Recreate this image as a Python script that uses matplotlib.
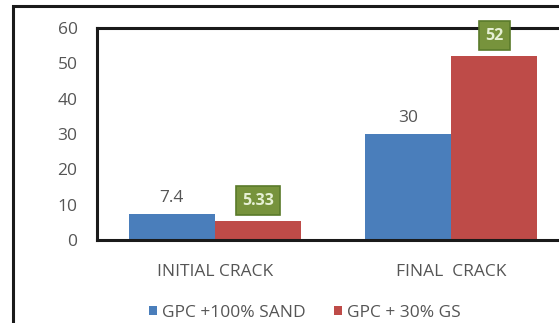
import numpy as np
import matplotlib as mpl
import matplotlib.pyplot as plt
from matplotlib.patches import Rectangle

mpl.rcParams['font.family'] = ['Open Sans', 'DejaVu Sans']

categories = ['INITIAL CRACK', 'FINAL  CRACK']
sand = [7.4, 30]
gs = [5.33, 52]
series_names = ['GPC +100% SAND', 'GPC + 30% GS']
yticks = [0, 10, 20, 30, 40, 50, 60]

blue = '#4a7ebb'
red = '#be4b48'
green = '#77933c'
grey = '#555555'
fs = 12.5

W, H = 559, 323
fig = plt.figure(figsize=(W / 100., H / 100.), dpi=100)

# outer chart frame (left and top edges)
fig.add_artist(Rectangle((12.5 / W, -0.1), 1.2, 1 - 5.5 / H + 0.1,
                         transform=fig.transFigure, fill=False,
                         edgecolor='#1a1a1a', linewidth=2.2))

ax = fig.add_axes([97. / W, 1 - 240. / H, 472. / W, 212. / H])
x = np.arange(len(categories))
bw = 0.365
b1 = ax.bar(x - bw / 2, sand, bw, color=blue, label=series_names[0], zorder=2)
b2 = ax.bar(x + bw / 2, gs, bw, color=red, label=series_names[1], zorder=2)

ax.set_xlim(-0.5, 1.5)
ax.set_ylim(0, 60)
ax.set_yticks(yticks)
ax.set_xticks(x)
ax.set_xticklabels(categories)
ax.tick_params(axis='both', length=0, labelsize=fs, labelcolor=grey)
ax.tick_params(axis='y', pad=14)
ax.tick_params(axis='x', pad=17)
for s in ['top', 'left', 'bottom']:
    ax.spines[s].set_linewidth(2.2)
    ax.spines[s].set_color('#1a1a1a')
ax.spines['right'].set_visible(False)

# plain labels for the sand series
for rect, v in zip(b1, sand):
    ax.annotate('%g' % v, (rect.get_x() + rect.get_width() / 2, v),
                xytext=(0, 6), textcoords='offset points', ha='center',
                va='bottom', fontsize=fs, color=grey)

# boxed labels for the GS series
for rect, v in zip(b2, gs):
    ax.annotate('%g' % v, (rect.get_x() + rect.get_width() / 2, v),
                xytext=(0, 9), textcoords='offset points', ha='center',
                va='bottom', fontsize=fs - 1, color='#e6f0d4', fontweight='bold',
                annotation_clip=False, zorder=5,
                bbox=dict(boxstyle='square,pad=0.4', fc=green, ec='#5a7a2a', lw=1.2))

leg = fig.legend(handles=[b1, b2], loc='center', bbox_to_anchor=(305. / W, 1 - 313. / H),
                 ncol=2, frameon=False, fontsize=fs, handlelength=0.45, handleheight=0.45,
                 handletextpad=0.3, columnspacing=1.6)
for t in leg.get_texts():
    t.set_color(grey)

plt.savefig('out.png', dpi=100)
